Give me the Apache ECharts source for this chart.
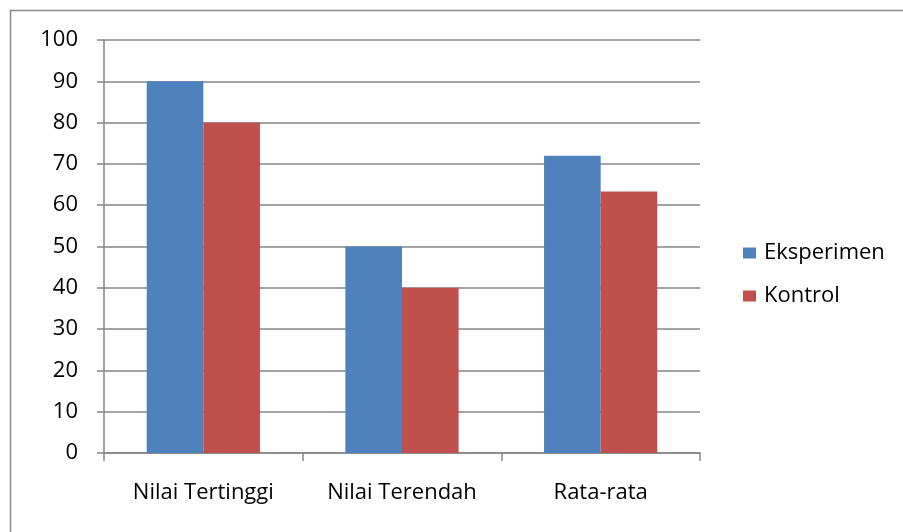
<!DOCTYPE html>
<html><head><meta charset="utf-8">
<script src="https://cdn.jsdelivr.net/npm/echarts@6/dist/echarts.min.js"></script>
<style>html,body{margin:0;padding:0;background:#fff}#c{width:903px;height:532px}</style>
</head><body><div id="c"></div>
<script>
var categories = ['Nilai Tertinggi', 'Nilai Terendah', 'Rata-rata'];
var eksperimen = [90, 50, 72];
var kontrol = [80, 40, 63.3];
var seriesNames = ['Eksperimen', 'Kontrol'];
var yTicks = {min: 0, max: 100, interval: 10};

var FONT = 'Open Sans';
var chart = echarts.init(document.getElementById('c'), null, {renderer: 'canvas'});
chart.setOption({
  animation: false,
  backgroundColor: '#fff',
  textStyle: {fontFamily: FONT},
  graphic: [{type: 'rect', shape: {x: 10.5, y: 10.5, width: 900, height: 530}, style: {fill: 'none', stroke: '#888', lineWidth: 1.5}, silent: true}],
  grid: {left: 104, top: 40, width: 596, height: 413, containLabel: false},
  legend: {
    orient: 'vertical', left: 738, top: 237, itemWidth: 13, itemHeight: 11, itemGap: 21,
    icon: 'rect',
    textStyle: {fontFamily: FONT, fontSize: 22, lineHeight: 22, color: '#000', padding: [0, 0, 0, 3]},
    data: seriesNames
  },
  xAxis: {
    type: 'category', data: categories,
    axisLine: {lineStyle: {color: '#868686', width: 1.5}},
    axisTick: {show: true, length: 8, alignWithLabel: false, lineStyle: {color: '#868686', width: 1.5}},
    axisLabel: {fontFamily: FONT, fontSize: 22, color: '#000', margin: 29}
  },
  yAxis: {
    type: 'value', min: yTicks.min, max: yTicks.max, interval: yTicks.interval,
    axisLine: {show: true, lineStyle: {color: '#868686', width: 1.5}},
    axisTick: {show: true, length: 7, lineStyle: {color: '#868686', width: 1.5}},
    splitLine: {show: true, lineStyle: {color: '#868686', width: 1.5}},
    axisLabel: {fontFamily: FONT, fontSize: 22, color: '#000', margin: 26}
  },
  series: [
    {name: seriesNames[0], type: 'bar', data: eksperimen, barGap: '0%', barCategoryGap: '43%', itemStyle: {color: '#4F81BD'}},
    {name: seriesNames[1], type: 'bar', data: kontrol, itemStyle: {color: '#C0504D'}}
  ]
});
</script></body></html>
